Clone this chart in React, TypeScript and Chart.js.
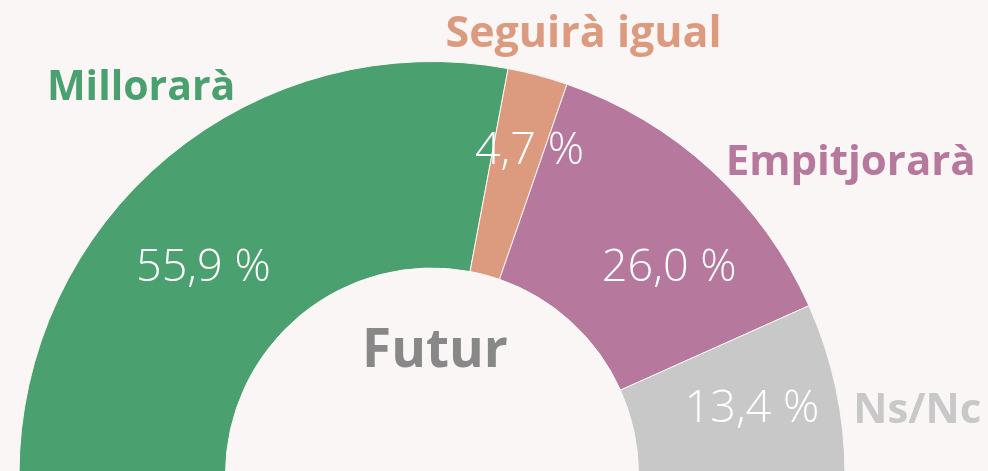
import React, { useEffect, useRef } from "react";
import { Chart, registerables } from "chart.js";

Chart.register(...registerables);

// ---- data ----
const categories = ["Millorarà", "Seguirà igual", "Empitjorarà", "Ns/Nc"];
const values = [55.9, 4.7, 26.0, 13.4];
const valueLabels = ["55,9 %", "4,7 %", "26,0 %", "13,4 %"];
const centerTitle = "Futur";

// ---- style ----
const BG = "#f9f6f5";
const sliceColors = ["#4aa06e", "#dc9a7e", "#b7789e", "#c8c8c8"];
const nameColors = ["#4aa06e", "#dc9a7e", "#b7789e", "#c8c8c8"];
const titleColor = "#888888";
// label placement relative to each arc's mid angle (deg, counter-clockwise) and outer radius
const valuePlacement = [
  { shift: 7.8, r: 0.751 },
  { shift: -1.75, r: 0.826 },
  { shift: -6.1, r: 0.766 },
  { shift: 0, r: 0.792 },
];
const namePlacement = [
  { shift: -2.9, r: 1.176 },
  { shift: -4.05, r: 1.133 },
  { shift: -10.6, r: 1.268 },
  { shift: -4.26, r: 1.186 },
];

const NAME_SIZE = [41, 43, 42, 42];
const VALUE_SIZE = 45;
const TITLE_SIZE = 53;
const CAP = 0.714;

const labelPlugin = {
  id: "sliceLabels",
  afterDatasetsDraw(chart: any) {
    const ctx: CanvasRenderingContext2D = chart.ctx;
    const meta = chart.getDatasetMeta(0);
    ctx.save();
    ctx.textAlign = "center";
    ctx.textBaseline = "alphabetic";
    let cx = 0, cy = 0, R = 0;
    meta.data.forEach((arc: any, i: number) => {
      const p = arc.getProps(["x", "y", "startAngle", "endAngle", "outerRadius"], true);
      cx = p.x; cy = p.y; R = p.outerRadius;
      const mid = (p.startAngle + p.endAngle) / 2;
      // values
      const vp = valuePlacement[i];
      const tv = mid - (vp.shift * Math.PI) / 180;
      const vx = p.x + Math.cos(tv) * R * vp.r;
      const vy = p.y + Math.sin(tv) * R * vp.r;
      ctx.font = `300 ${VALUE_SIZE}px 'Open Sans'`;
      ctx.fillStyle = "#ffffff";
      ctx.fillText(valueLabels[i], vx, vy + (VALUE_SIZE * CAP) / 2);
      // names
      const np = namePlacement[i];
      const tn = mid - (np.shift * Math.PI) / 180;
      const nx = p.x + Math.cos(tn) * R * np.r;
      const ny = p.y + Math.sin(tn) * R * np.r;
      ctx.font = `700 ${NAME_SIZE[i]}px 'Open Sans'`;
      ctx.fillStyle = nameColors[i];
      ctx.fillText(categories[i], nx, ny + (NAME_SIZE[i] * CAP) / 2);
    });
    ctx.font = `700 ${TITLE_SIZE}px 'Open Sans'`;
    ctx.fillStyle = titleColor;
    ctx.fillText(centerTitle, cx + 3, cy - R * 0.305 + (TITLE_SIZE * CAP) / 2);
    ctx.restore();
  },
};

export default function App() {
  const ref = useRef<HTMLCanvasElement | null>(null);
  useEffect(() => {
    document.body.style.margin = "0";
    document.body.style.overflow = "hidden";
    document.body.style.background = BG;
    const canvas = ref.current!;
    const chart = new Chart(canvas, {
      type: "doughnut",
      data: {
        labels: categories,
        datasets: [
          {
            data: values,
            backgroundColor: sliceColors,
            borderColor: BG,
            borderWidth: 1,
          },
        ],
      },
      options: {
        responsive: false,
        animation: false,
        devicePixelRatio: 1,
        rotation: -90,
        circumference: 180,
        cutout: "50%",
        layout: { padding: { left: 18, right: 142, top: 61, bottom: 15 } },
        plugins: {
          legend: { display: false },
          tooltip: { enabled: false },
        },
      },
      plugins: [labelPlugin],
    });
    return () => chart.destroy();
  }, []);
  return (
    <div style={{ position: "absolute", left: 0, top: 0, width: 988, height: 490, background: BG }}>
      <canvas ref={ref} width={988} height={490} style={{ display: "block" }} />
    </div>
  );
}
